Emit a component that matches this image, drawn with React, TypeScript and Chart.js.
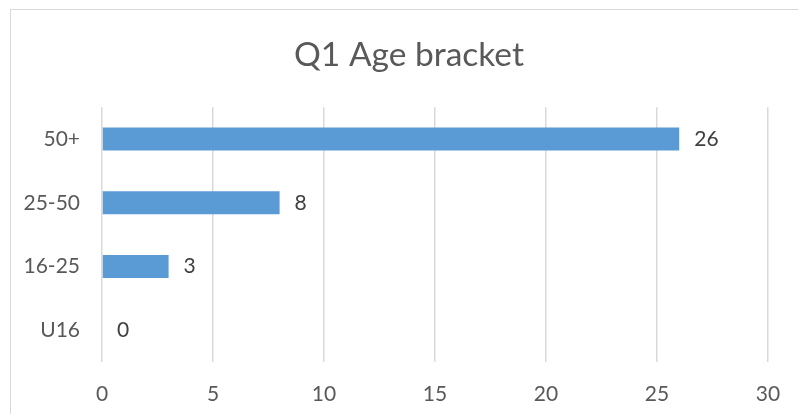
import React, { useEffect, useRef } from "react";
import { Chart, registerables } from "chart.js";

Chart.register(...registerables);

const categories = ["50+", "25-50", "16-25", "U16"];
const values = [26, 8, 3, 0];
const titleText = "Q1 Age bracket";
const xMin = 0;
const xMax = 30;
const xStep = 5;

const FONT = "Lato, 'Open Sans', sans-serif";

const dataLabelPlugin = {
  id: "dataLabels",
  afterDatasetsDraw(chart: any) {
    const ctx = chart.ctx;
    const meta = chart.getDatasetMeta(0);
    ctx.save();
    ctx.font = `21px ${FONT}`;
    ctx.fillStyle = "#404040";
    ctx.textAlign = "left";
    ctx.textBaseline = "middle";
    meta.data.forEach((bar: any, i: number) => {
      const v = chart.data.datasets[0].data[i];
      ctx.fillText(String(v), bar.x + 15, bar.y);
    });
    ctx.restore();
  },
};

export default function App() {
  const ref = useRef<HTMLCanvasElement | null>(null);
  useEffect(() => {
    if (!ref.current) return;
    const chart = new Chart(ref.current, {
      type: "bar",
      data: {
        labels: categories,
        datasets: [
          {
            data: values,
            backgroundColor: "#5B9BD5",
            borderWidth: 0,
            barPercentage: 0.36,
            categoryPercentage: 1,
          },
        ],
      },
      options: {
        indexAxis: "y",
        animation: false,
        responsive: false,
        maintainAspectRatio: false,
        layout: { padding: { left: 10, right: 10, top: 0, bottom: 0 } },
        plugins: {
          legend: { display: false },
          tooltip: { enabled: false },
          title: {
            display: true,
            text: titleText,
            color: "#595959",
            font: { family: FONT, size: 33.5, weight: "normal" },
            padding: { top: 35, bottom: 32 },
          },
        },
        scales: {
          x: {
            min: xMin,
            max: xMax,
            ticks: {
              stepSize: xStep,
              color: "#595959",
              font: { family: FONT, size: 21 },
              padding: 20,
            },
            grid: { color: "#D9D9D9", lineWidth: 1.5, drawTicks: false },
            border: { display: false },
            afterFit: (scale: any) => {
              scale.height = 52;
            },
          },
          y: {
            ticks: {
              color: "#595959",
              font: { family: FONT, size: 21 },
              padding: 22,
            },
            grid: { display: false, drawTicks: false },
            border: { display: false },
            afterFit: (scale: any) => {
              scale.width = 92;
            },
          },
          yRight: {
            type: "category",
            axis: "y",
            position: "right",
            labels: categories,
            ticks: { display: false },
            grid: { display: false, drawTicks: false },
            border: { display: false },
            afterFit: (scale: any) => {
              scale.width = 40;
            },
          },
        },
      },
      plugins: [dataLabelPlugin],
    } as any);
    return () => chart.destroy();
  }, []);

  return (
    <div
      style={{
        position: "fixed",
        left: 0,
        top: 0,
        width: 798,
        height: 414,
        overflow: "hidden",
        background: "#fff",
      }}
    >
      <div
        style={{
          position: "absolute",
          left: 10,
          top: 9,
          width: 900,
          height: 500,
          border: "1px solid #D9D9D9",
        }}
      />
      <canvas
        ref={ref}
        width={818}
        height={414}
        style={{ position: "absolute", left: 0, top: 0, width: 818, height: 414 }}
      />
    </div>
  );
}
